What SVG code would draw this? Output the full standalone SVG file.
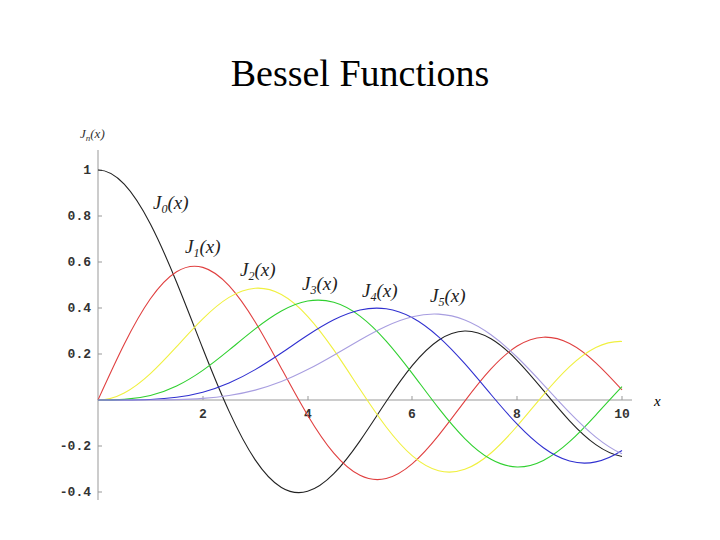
<svg xmlns="http://www.w3.org/2000/svg" width="720" height="540" viewBox="0 0 720 540">
<style>
.c{fill:none;stroke-width:1.1;vector-effect:non-scaling-stroke;stroke-linejoin:round}
.tk{font-family:"Liberation Mono",monospace;font-size:13px;font-weight:bold;fill:#333}
.lb{font-family:"Liberation Serif",serif;font-style:italic;font-size:19px;fill:#222}
.sub{font-size:12px}
.ax{stroke:#999;stroke-width:1}
</style>
<rect width="720" height="540" fill="#fff"/>
<text x="360" y="86" text-anchor="middle" font-family="Liberation Serif,serif" font-size="38">Bessel Functions</text>
<g id="axes">
<line class="ax" x1="98" y1="400" x2="632" y2="400"/>
<line class="ax" x1="98" y1="150" x2="98" y2="500"/>
<g class="ax">
<line x1="98" y1="170" x2="102" y2="170"/><line x1="98" y1="216" x2="102" y2="216"/><line x1="98" y1="262" x2="102" y2="262"/><line x1="98" y1="308" x2="102" y2="308"/><line x1="98" y1="354" x2="102" y2="354"/><line x1="98" y1="446" x2="102" y2="446"/><line x1="98" y1="492" x2="102" y2="492"/>
<line x1="203" y1="400" x2="203" y2="396"/><line x1="308" y1="400" x2="308" y2="396"/><line x1="412" y1="400" x2="412" y2="396"/><line x1="517" y1="400" x2="517" y2="396"/><line x1="622" y1="400" x2="622" y2="396"/>
</g>
<g class="tk" text-anchor="end">
<text x="91" y="174">1</text><text x="91" y="220">0.8</text><text x="91" y="266">0.6</text><text x="91" y="312">0.4</text><text x="91" y="358">0.2</text><text x="91" y="450">-0.2</text><text x="91" y="496">-0.4</text>
</g>
<g class="tk" text-anchor="middle">
<text x="203" y="418">2</text><text x="308" y="418">4</text><text x="412" y="418">6</text><text x="517" y="418">8</text><text x="622" y="418">10</text>
</g>
<text x="654" y="406" font-family="Liberation Serif,serif" font-style="italic" font-size="15">x</text>
<text x="80" y="138" font-family="Liberation Serif,serif" font-style="italic" font-size="13" fill="#333">J<tspan font-size="9" dy="3">n</tspan><tspan dy="-3">(x)</tspan></text>
</g>
<g id="curves" transform="translate(98,400) scale(52.4,-230)">
<path class="c" stroke="#222" d="M0,1 C0.1667,1 0.3333,0.9789 0.5,0.9385 S0.8333,0.8386 1,0.7652 S1.3333,0.6048 1.5,0.5118 S1.8333,0.32 2,0.2239 S2.3333,0.0345 2.5,-0.0484 S2.8333,-0.2036 3,-0.2601 S3.3333,-0.3572 3.5,-0.3801 S3.8333,-0.4081 4,-0.3971 S4.3333,-0.359 4.5,-0.3205 S4.8333,-0.2322 5,-0.1776 S5.3333,-0.0637 5.5,-0.0068 S5.8333,0.1045 6,0.1506 S6.3333,0.2345 6.5,0.2601 S6.8333,0.2993 7,0.3001 S7.3333,0.2888 7.5,0.2663 S7.8333,0.2108 8,0.1717 S8.3333,0.0874 8.5,0.0419 S8.8333,-0.0494 9,-0.0903 S9.3333,-0.167 9.5,-0.1939 S9.8333,-0.2386 10,-0.2459"/>
<path class="c" stroke="#e04040" d="M0,0 C0.1667,0.0833 0.3333,0.1666 0.5,0.2423 S0.8333,0.3859 1,0.4401 S1.3333,0.5346 1.5,0.5579 S1.8333,0.5874 2,0.5767 S2.3333,0.5383 2.5,0.4971 S2.8333,0.4013 3,0.3391 S3.3333,0.2073 3.5,0.1374 S3.8333,-0.0026 4,-0.066 S4.3333,-0.1862 4.5,-0.2311 S4.8333,-0.3089 5,-0.3276 S5.3333,-0.3506 5.5,-0.3414 S5.8333,-0.3095 6,-0.2767 S6.3333,-0.2011 6.5,-0.1538 S6.8333,-0.0548 7,-0.0047 S7.3333,0.0938 7.5,0.1352 S7.8333,0.2109 8,0.2346 S8.3333,0.2715 8.5,0.2731 S8.8333,0.2649 9,0.2453 S9.3333,0.1965 9.5,0.1613 S9.8333,0.0852 10,0.0435"/>
<path class="c" stroke="#f0f040" d="M0,0 C0.1667,0 0.3333,0.0106 0.5,0.0306 S0.8333,0.0799 1,0.1149 S1.3333,0.1907 1.5,0.2321 S1.8333,0.3155 2,0.3528 S2.3333,0.4227 2.5,0.4461 S2.8333,0.4836 3,0.4861 S3.3333,0.4794 3.5,0.4586 S3.8333,0.4055 4,0.3641 S4.3333,0.2725 4.5,0.2178 S4.8333,0.1043 5,0.0466 S5.3333,-0.0675 5.5,-0.1173 S5.8333,-0.2103 6,-0.2429 S6.3333,-0.2975 6.5,-0.3074 S6.8333,-0.315 7,-0.3014 S7.3333,-0.2631 7.5,-0.2303 S7.8333,-0.1568 8,-0.113 S8.3333,-0.0223 8.5,0.0223 S8.8333,0.1093 9,0.1448 S9.3333,0.209 9.5,0.2279 S9.8333,0.2558 10,0.2546"/>
<path class="c" stroke="#30d030" d="M0,0 C0.1667,0 0.3333,0.0001 0.5,0.0026 S0.8333,0.0102 1,0.0196 S1.3333,0.0426 1.5,0.061 S1.8333,0.1023 2,0.1289 S2.3333,0.1857 2.5,0.2167 S2.8333,0.2796 3,0.3091 S3.3333,0.3655 3.5,0.3867 S3.8333,0.4233 4,0.4302 S4.3333,0.4356 4.5,0.4247 S4.8333,0.3935 5,0.3648 S5.3333,0.2989 5.5,0.2561 S5.8333,0.1649 6,0.1148 S6.3333,0.0131 6.5,-0.0354 S6.8333,-0.1293 7,-0.1676 S7.3333,-0.2368 7.5,-0.258 S7.8333,-0.2905 8,-0.2911 S8.3333,-0.2818 8.5,-0.2626 S8.8333,-0.2151 9,-0.1809 S9.3333,-0.1067 9.5,-0.0653 S9.8333,0.0189 10,0.0584"/>
<path class="c" stroke="#3030d0" d="M0,0 C0.1667,0 0.3333,0 0.5,0.0002 S0.8333,0.0009 1,0.0025 S1.3333,0.0069 1.5,0.0118 S1.8333,0.0237 2,0.0339 S2.3333,0.0576 2.5,0.074 S2.8333,0.1099 3,0.1321 S3.3333,0.1788 3.5,0.2043 S3.8333,0.2564 4,0.2812 S4.3333,0.3293 4.5,0.3485 S4.8333,0.3826 5,0.3912 S5.3333,0.4021 5.5,0.3967 S5.8333,0.3783 6,0.3577 S6.3333,0.3088 6.5,0.2747 S6.8333,0.2007 7,0.1577 S7.3333,0.069 7.5,0.0239 S7.8333,-0.0656 8,-0.1053 S8.3333,-0.1802 8.5,-0.2077 S8.8333,-0.2549 9,-0.2654 S9.3333,-0.2771 9.5,-0.2691 S9.8333,-0.244 10,-0.2196"/>
<path class="c" stroke="#a89ee0" d="M0,0 L0.5,0 C0.6667,0 0.8333,0.0001 1,0.0003 S1.3333,0.0008 1.5,0.0018 S1.8333,0.0043 2,0.007 S2.3333,0.0137 2.5,0.0195 S2.8333,0.0329 3,0.043 S3.3333,0.0654 3.5,0.0803 S3.8333,0.1129 4,0.1322 S4.3333,0.1729 4.5,0.1949 S4.8333,0.2394 5,0.2611 S5.3333,0.3034 5.5,0.3209 S5.8333,0.3528 6,0.3621 S6.3333,0.3756 6.5,0.3735 S6.8333,0.3629 7,0.3478 S7.3333,0.311 7.5,0.2835 S7.8333,0.2227 8,0.1858 S8.3333,0.1083 8.5,0.0671 S8.8333,-0.0159 9,-0.055 S9.3333,-0.1306 9.5,-0.1613 S9.8333,-0.217 10,-0.2341"/>
</g>
<g id="labels" class="lb">
<text x="153" y="209">J<tspan class="sub" dy="4">0</tspan><tspan dy="-4">(x)</tspan></text>
<text x="185" y="253">J<tspan class="sub" dy="4">1</tspan><tspan dy="-4">(x)</tspan></text>
<text x="240" y="276">J<tspan class="sub" dy="4">2</tspan><tspan dy="-4">(x)</tspan></text>
<text x="302" y="290">J<tspan class="sub" dy="4">3</tspan><tspan dy="-4">(x)</tspan></text>
<text x="362" y="297">J<tspan class="sub" dy="4">4</tspan><tspan dy="-4">(x)</tspan></text>
<text x="430" y="302">J<tspan class="sub" dy="4">5</tspan><tspan dy="-4">(x)</tspan></text>
</g>
</svg>
